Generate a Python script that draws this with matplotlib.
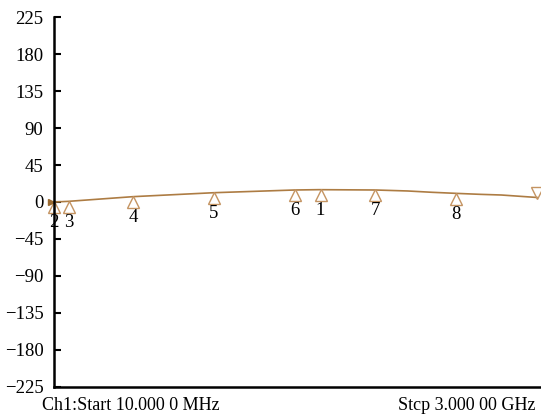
import numpy as np
import matplotlib
matplotlib.use("Agg")
import matplotlib.pyplot as plt
from matplotlib.transforms import offset_copy

# Trace data (frequency in GHz, phase in degrees)
freq_ghz = [0.01, 0.1, 0.5, 1.0, 1.5, 1.65, 2.0, 2.2, 2.35, 2.5, 2.65, 2.78, 3.0]
phase_deg = [0.0, 0.8, 6.5, 11.3, 14.6, 15.0, 14.6, 13.4, 11.8, 10.5, 9.3, 8.5, 5.5]

# Markers
marker_labels = ["2", "3", "4", "5", "6", "1", "7", "8"]
marker_freqs = [0.01, 0.1, 0.5, 1.0, 1.5, 1.66, 2.0, 2.5]
end_marker_freq = 3.0

yticks = [225, 180, 135, 90, 45, 0, -45, -90, -135, -180, -225]
start_text = "Ch1:Start 10.000 0 MHz"
stop_text = "Stcp 3.000 00 GHz"

plt.rcParams['font.family'] = ['Liberation Serif', 'DejaVu Serif']
plt.rcParams['axes.unicode_minus'] = True

fig = plt.figure(figsize=(5.41, 4.18), dpi=100)
ax = fig.add_axes([0.0998, 0.0742, 0.9002, 0.8851])

line_color = '#ad7c43'
mk_color = '#c49462'

ax.plot(freq_ghz, phase_deg, color=line_color, lw=1.2)

mvals = np.interp(marker_freqs, freq_ghz, phase_deg)
tri_tr = offset_copy(ax.transData, fig=fig, x=0, y=-3.8, units='points')
lab_tr = offset_copy(ax.transData, fig=fig, x=0, y=-15, units='points')
ax.plot(marker_freqs, mvals, linestyle='none', marker='^', markersize=8,
        markerfacecolor='none', markeredgecolor=mk_color, markeredgewidth=1.0,
        transform=tri_tr, clip_on=False)
for lab, f, v in zip(marker_labels, marker_freqs, mvals):
    ax.text(f, v, lab, transform=lab_tr, ha='center', va='center', fontsize=13.5)

ev = np.interp(end_marker_freq, freq_ghz, phase_deg)
end_tr = offset_copy(ax.transData, fig=fig, x=0, y=3.4, units='points')
ax.plot([end_marker_freq], [ev], linestyle='none', marker='v', markersize=8,
        markerfacecolor='none', markeredgecolor=mk_color, markeredgewidth=1.0,
        transform=end_tr, clip_on=False)

# reference level marker on the left
ref_tr = offset_copy(ax.transData, fig=fig, x=-2.2, y=0, units='points')
ax.plot([0.01], [0], linestyle='none', marker='>', markersize=5,
        color='#9a6a30', transform=ref_tr, clip_on=False)

ax.set_xlim(0.01, 3.025)
ax.set_ylim(-225, 225)
ax.set_yticks(yticks)
ax.set_yticklabels([str(t).replace('-', '\u2212') for t in yticks], fontsize=13.5)
ax.set_xticks([])
ax.tick_params(axis='y', direction='in', length=5, width=1.5, pad=7.5)
for s in ['top', 'right']:
    ax.spines[s].set_visible(False)
for s in ['left', 'bottom']:
    ax.spines[s].set_linewidth(1.8)

fig.text(42 / 541, 1 - 410 / 418, start_text, fontsize=13, ha='left', va='baseline')
fig.text(535 / 541, 1 - 410 / 418, stop_text, fontsize=13, ha='right', va='baseline')

fig.savefig('out.png', dpi=100)
